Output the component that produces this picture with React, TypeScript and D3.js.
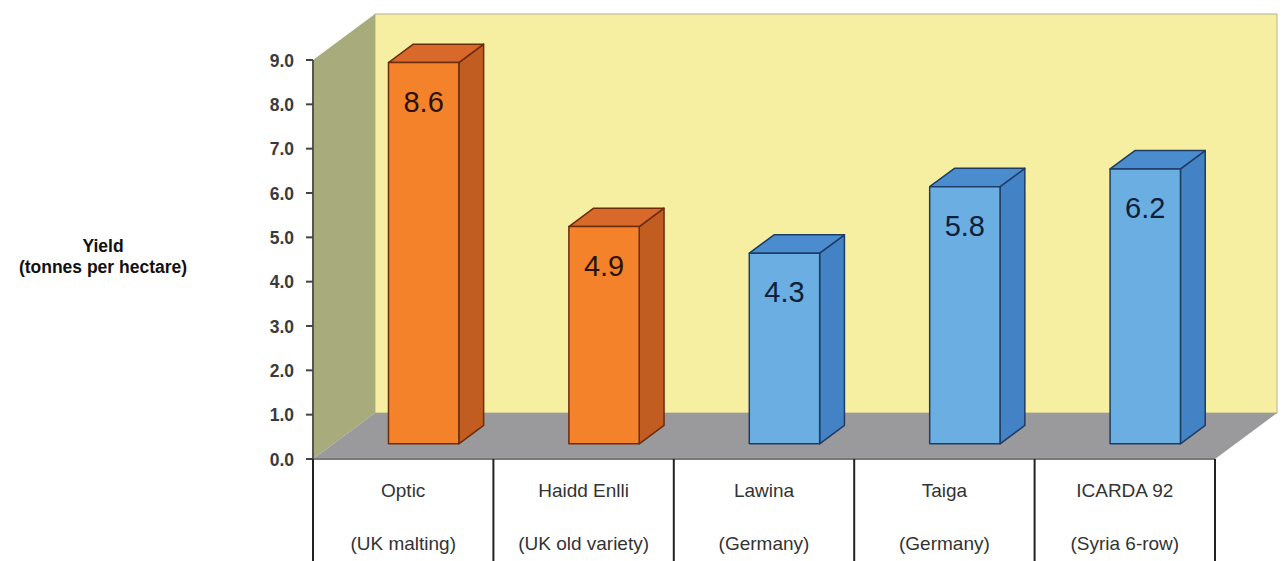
import React from "react";
import * as d3 from "d3";

const categories = ["Optic", "Haidd Enlli", "Lawina", "Taiga", "ICARDA 92"];
const origins = ["(UK malting)", "(UK old variety)", "(Germany)", "(Germany)", "(Syria 6-row)"];
const yields = [8.6, 4.9, 4.3, 5.8, 6.2];
const groups = ["uk", "uk", "other", "other", "other"];
const yTicks = [0, 1, 2, 3, 4, 5, 6, 7, 8, 9];

const W = 1284,
  H = 561;
const left = 313,
  right = 1215,
  top = 60,
  bottom = 459;
const depthX = 62,
  depthY = -46;
// bars sit between these fractions of the floor depth
const f0 = 0.33,
  f1 = 0.73;

const palette: Record<string, { front: string; side: string; top: string; stroke: string; text: string }> = {
  uk: { front: "#f4822a", side: "#c25d22", top: "#d9692a", stroke: "#6b2c0c", text: "#2a1306" },
  other: { front: "#6aaee2", side: "#4382c4", top: "#4b8ccf", stroke: "#1e3d66", text: "#0f2038" },
};

export default function App() {
  const x = d3.scaleBand<string>().domain(categories).range([left, right]).padding(0);
  const y = d3.scaleLinear().domain([0, 9]).range([bottom, top]);
  const barW = x.bandwidth() * 0.39;

  const pts = (p: [number, number][]) => p.map((d) => d.join(",")).join(" ");

  const ox0 = depthX * f0,
    oy0 = depthY * f0;
  const dx = depthX * (f1 - f0),
    dy = depthY * (f1 - f0);

  return (
    <svg
      width={W}
      height={H}
      style={{ position: "absolute", left: 0, top: 0, display: "block", background: "#fff" }}
      fontFamily="'Liberation Sans', Arial, sans-serif"
    >
      {/* back wall */}
      <rect
        x={left + depthX}
        y={top + depthY}
        width={right - left}
        height={bottom - top}
        fill="#f6efa2"
        stroke="#b5b29a"
        strokeWidth={1}
      />
      {/* left wall */}
      <polygon
        points={pts([
          [left, top],
          [left + depthX, top + depthY],
          [left + depthX, bottom + depthY],
          [left, bottom],
        ])}
        fill="#a8ac7c"
      />
      {/* floor */}
      <polygon
        points={pts([
          [left, bottom],
          [right, bottom],
          [right + depthX, bottom + depthY],
          [left + depthX, bottom + depthY],
        ])}
        fill="#9a9a9c"
      />

      {/* bars */}
      {categories.map((c, i) => {
        const col = palette[groups[i]];
        const xl = (x(c) as number) + (x.bandwidth() - barW) / 2 + ox0;
        const xr = xl + barW;
        const yt = y(yields[i]) + oy0;
        const yb = y(0) + oy0;
        return (
          <g key={c} stroke={col.stroke} strokeWidth={1.5} strokeLinejoin="round">
            <polygon
              points={pts([
                [xr, yt],
                [xr + dx, yt + dy],
                [xr + dx, yb + dy],
                [xr, yb],
              ])}
              fill={col.side}
            />
            <polygon
              points={pts([
                [xl, yt],
                [xl + dx, yt + dy],
                [xr + dx, yt + dy],
                [xr, yt],
              ])}
              fill={col.top}
            />
            <rect x={xl} y={yt} width={barW} height={yb - yt} fill={col.front} />
            <text
              x={(xl + xr) / 2}
              y={yt + 49}
              textAnchor="middle"
              fontSize={29}
              fill={col.text}
              stroke="none"
            >
              {yields[i].toFixed(1)}
            </text>
          </g>
        );
      })}

      {/* floor front edge */}
      <line x1={left} x2={right} y1={bottom} y2={bottom} stroke="#7a7a7a" strokeWidth={2} />

      {/* y axis */}
      <line x1={left} x2={left} y1={top} y2={bottom} stroke="#555" strokeWidth={2} />
      {yTicks.map((t) => (
        <g key={t}>
          <line x1={left - 7} x2={left} y1={y(t)} y2={y(t)} stroke="#444" strokeWidth={2} />
          <text
            x={left - 19}
            y={y(t) + 6.5}
            textAnchor="end"
            fontSize={17.5}
            fontWeight="bold"
            fill="#3a3a3a"
          >
            {t.toFixed(1)}
          </text>
        </g>
      ))}

      {/* y title */}
      <text x={103} y={252} textAnchor="middle" fontSize={17.5} fontWeight="bold" fill="#111">
        Yield
      </text>
      <text x={103} y={273} textAnchor="middle" fontSize={17.5} fontWeight="bold" fill="#111">
        (tonnes per hectare)
      </text>

      {/* category table */}
      {[...categories.map((c) => x(c) as number), right].map((xv, i) => (
        <line key={i} x1={xv} x2={xv} y1={bottom} y2={H} stroke="#222" strokeWidth={2} />
      ))}
      {categories.map((c, i) => (
        <g key={c}>
          <text
            x={(x(c) as number) + x.bandwidth() / 2}
            y={497}
            textAnchor="middle"
            fontSize={19}
            fill="#333"
          >
            {c}
          </text>
          <text
            x={(x(c) as number) + x.bandwidth() / 2}
            y={550}
            textAnchor="middle"
            fontSize={19}
            fill="#333"
          >
            {origins[i]}
          </text>
        </g>
      ))}
    </svg>
  );
}
